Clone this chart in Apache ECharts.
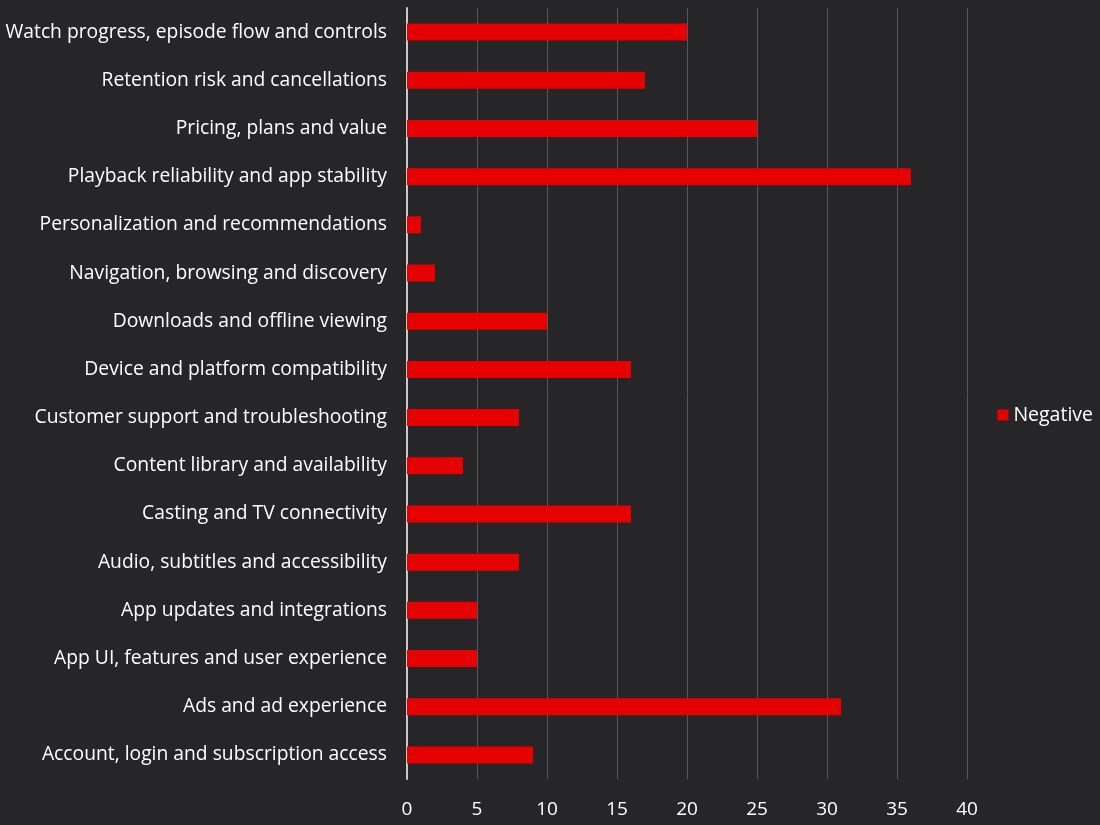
<!DOCTYPE html>
<html>
<head>
<meta charset="utf-8">
<script src="https://cdn.jsdelivr.net/npm/echarts@6/dist/echarts.min.js"></script>
<style>
  html, body { margin: 0; padding: 0; background: #262528; }
  #chart { width: 1100px; height: 825px; }
</style>
</head>
<body>
<div id="chart"></div>
<script>
// categories bottom -> top
const categories = [
  'Account, login and subscription access',
  'Ads and ad experience',
  'App UI, features and user experience',
  'App updates and integrations',
  'Audio, subtitles and accessibility',
  'Casting and TV connectivity',
  'Content library and availability',
  'Customer support and troubleshooting',
  'Device and platform compatibility',
  'Downloads and offline viewing',
  'Navigation, browsing and discovery',
  'Personalization and recommendations',
  'Playback reliability and app stability',
  'Pricing, plans and value',
  'Retention risk and cancellations',
  'Watch progress, episode flow and controls'
];
const negative = [9, 31, 5, 5, 8, 16, 4, 8, 16, 10, 2, 1, 36, 25, 17, 20];
const xTicks = { min: 0, max: 40, interval: 5 };

const font = '"Open Sans", "Noto Sans", sans-serif';

const chart = echarts.init(document.getElementById('chart'));
chart.setOption({
  backgroundColor: '#262528',
  animation: false,
  textStyle: { fontFamily: font },
  grid: { left: 407, right: 133, top: 8, bottom: 46, containLabel: false },
  legend: {
    data: ['Negative'],
    right: 2,
    top: 400,
    orient: 'vertical',
    icon: 'rect',
    itemWidth: 11,
    itemHeight: 11,
    itemGap: 6,
    textStyle: { color: '#ffffff', fontSize: 19.5, fontFamily: font }
  },
  xAxis: {
    type: 'value',
    min: xTicks.min,
    max: xTicks.max,
    interval: xTicks.interval,
    axisLine: { show: false },
    axisTick: { show: false },
    axisLabel: { color: '#ffffff', fontSize: 19, margin: 21, fontFamily: font },
    splitLine: { show: true, lineStyle: { color: '#56555a', width: 1 } }
  },
  yAxis: {
    type: 'category',
    data: categories,
    axisLine: { show: true, lineStyle: { color: '#c8c8c8', width: 2 } },
    axisTick: { show: false },
    axisLabel: { color: '#ffffff', fontSize: 19.3, margin: 20, fontFamily: font },
    splitLine: { show: false }
  },
  series: [{
    name: 'Negative',
    type: 'bar',
    data: negative,
    barWidth: 17,
    itemStyle: { color: '#e60000' }
  }]
});
</script>
</body>
</html>
